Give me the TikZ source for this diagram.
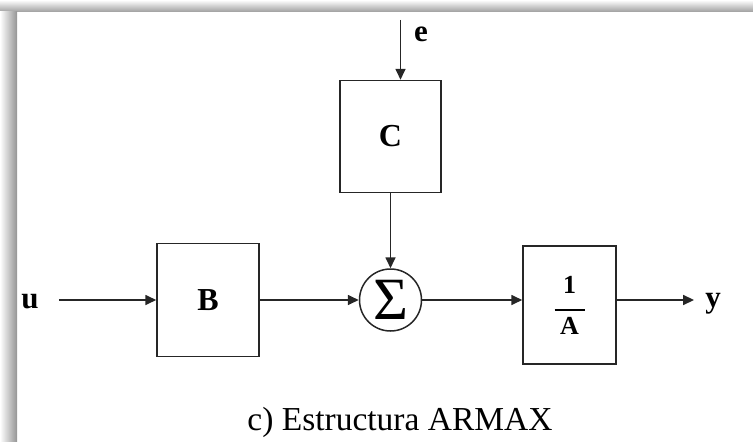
\documentclass[tikz,border=0pt]{standalone}
\usepackage{fontspec}
\setmainfont{Liberation Serif}
\usetikzlibrary{arrows.meta, positioning}

\begin{document}
\begin{tikzpicture}[x=1pt, y=-1pt, block/.style={draw=black!85, line width=1.5pt, align=center, font=\fontsize{32}{34}\selectfont\bfseries}, arrow/.style={-{Triangle[length=11pt, width=10pt]}, line width=1.7pt, draw=black!85}, sig/.style={inner sep=0pt, font=\fontsize{31}{33}\selectfont\bfseries}]

\useasboundingbox (0,0) rectangle (753,442);
\shade[top color=white, bottom color=black!35] (0,0) rectangle (753,11);
\shade[left color=white, right color=black!42] (0,11) rectangle (17,442);

\node[block, minimum width=102pt, minimum height=113pt] (B) at (208,300) {B};
\node[draw=black!85, line width=1.5pt, circle, minimum size=62pt, inner sep=0pt, font=\fontsize{60}{60}\selectfont, right=99pt of B] (sum) {Σ};
\node[block, minimum width=93pt, minimum height=118pt, right=100pt of sum, yshift=-5pt, font=\fontsize{26}{27}\selectfont\bfseries] (A) {1\\[-9pt]\rule{30pt}{1.8pt}\\[-4pt]A};
\node[block, minimum width=101pt, minimum height=112pt, above=75pt of sum] (C) {C};
\node[sig] (u) at (30,302) {u};
\node[sig] (y) at (713,304) {y};
\node[sig] (e) at (421,34) {e};
\coordinate (ein) at ([xshift=10pt]C.north);
\coordinate (etop) at ([yshift=60pt]ein);
\node[font=\fontsize{33.5}{35}\selectfont] (cap) at (400,422) {c) Estructura ARMAX};
\draw[arrow, shorten <=20pt](u.east |- B)--(B);\draw[arrow](B)--(sum);\draw[arrow](sum)--(sum -| A.west);\draw[arrow, shorten >=11pt](A.east |- sum)--(y.west |- sum);\draw[arrow](etop)--(ein);\draw[arrow](C)--(sum);

\end{tikzpicture}
\end{document}
